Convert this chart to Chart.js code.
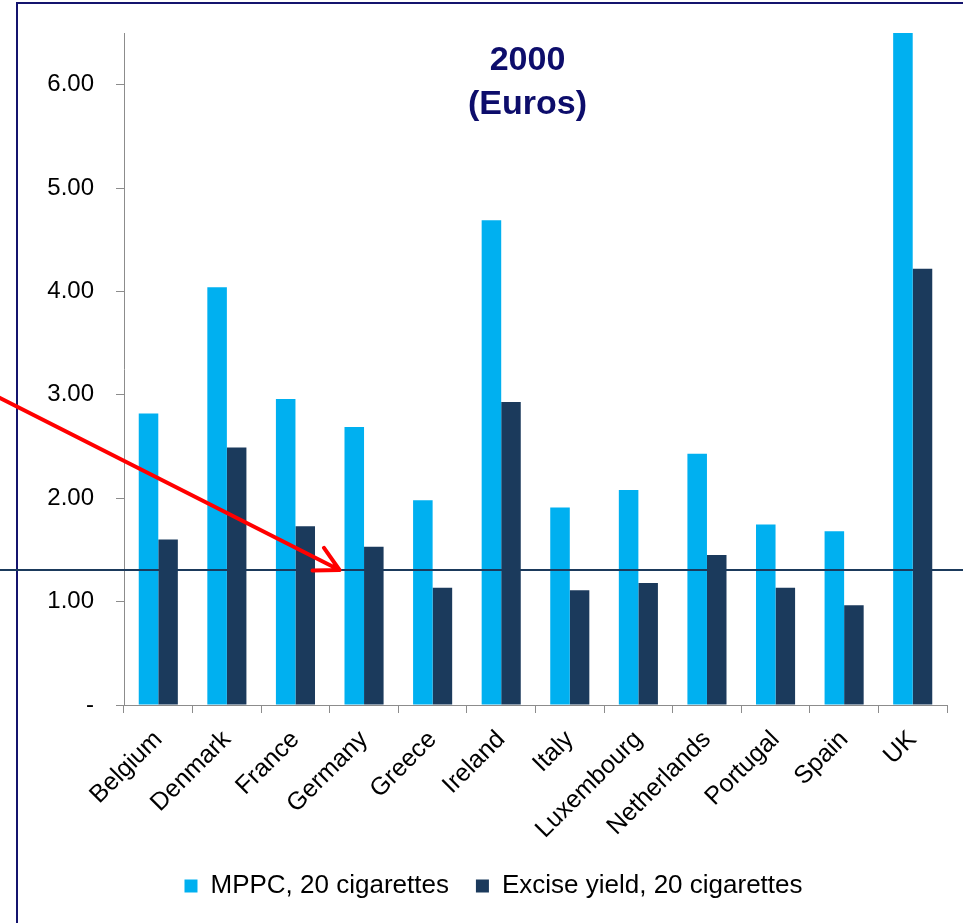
<!DOCTYPE html>
<html>
<head>
<meta charset="utf-8">
<script src="https://cdn.jsdelivr.net/npm/chart.js@4/dist/chart.umd.min.js"></script>
<style>
  html, body { margin: 0; padding: 0; background: #ffffff; }
  canvas { display: block; }
</style>
</head>
<body>
<canvas id="chart" width="963" height="923"></canvas>
<script>
// Price per pack of 20 cigarettes, year 2000, in euros
const countries = ['Belgium', 'Denmark', 'France', 'Germany', 'Greece', 'Ireland',
                   'Italy', 'Luxembourg', 'Netherlands', 'Portugal', 'Spain', 'UK'];
const mppcValues   = [2.82, 4.04, 2.96, 2.69, 1.98, 4.69, 1.91, 2.08, 2.43, 1.745, 1.68, 6.50];
const exciseValues = [1.60, 2.49, 1.73, 1.53, 1.135, 2.93, 1.11, 1.18, 1.45, 1.135, 0.965, 4.22];
const seriesNames  = ['MPPC, 20 cigarettes', 'Excise yield, 20 cigarettes'];
const titleLines   = ['2000', '(Euros)'];
const referenceLevel = 1.31;   // horizontal marker line
const arrowStartLevel = 2.97;  // where the red pointer enters at the left edge

const FONT = '"Liberation Sans", Arial, sans-serif';
const AXIS_GREY = '#8c8c8c';

// Frame, reference line, pointer arrow and title drawn over the bars
const overlay = {
  id: 'overlay',
  afterDraw(chart) {
    const ctx = chart.ctx;
    const area = chart.chartArea;
    const x = chart.scales.x;
    const y = chart.scales.y;
    ctx.save();

    // frame lines
    ctx.strokeStyle = '#14146e';
    ctx.lineWidth = 2;
    ctx.beginPath();
    ctx.moveTo(17, chart.height);
    ctx.lineTo(17, 3);
    ctx.lineTo(chart.width, 3);
    ctx.stroke();

    // reference level across the full width
    const ry = Math.round(y.getPixelForValue(referenceLevel));
    ctx.strokeStyle = '#1b3a5c';
    ctx.lineWidth = 2;
    ctx.beginPath();
    ctx.moveTo(0, ry);
    ctx.lineTo(chart.width, ry);
    ctx.stroke();

    // red pointer towards Germany
    const catW = (area.right - area.left) / countries.length;
    const tipX = x.getPixelForValue(3) - catW * 0.57 / 2 - 5;
    const tipY = ry;
    const sx = 0, sy = y.getPixelForValue(arrowStartLevel);
    const ang = Math.atan2(tipY - sy, tipX - sx);
    const head = 27, spread = 0.49;
    ctx.strokeStyle = '#ff0000';
    ctx.lineWidth = 4;
    ctx.lineCap = 'round';
    ctx.lineJoin = 'round';
    ctx.beginPath();
    ctx.moveTo(sx, sy);
    ctx.lineTo(tipX, tipY);
    ctx.moveTo(tipX - head * Math.cos(ang - spread), tipY - head * Math.sin(ang - spread));
    ctx.lineTo(tipX, tipY);
    ctx.lineTo(tipX - head * Math.cos(ang + spread), tipY - head * Math.sin(ang + spread));
    ctx.stroke();

    // title inside the plot
    const cx = (area.left + area.right) / 2 - 8;
    ctx.fillStyle = '#0d0d6b';
    ctx.font = 'bold 34px ' + FONT;
    ctx.textAlign = 'center';
    ctx.textBaseline = 'alphabetic';
    ctx.fillText(titleLines[0], cx, area.top + 37);
    ctx.fillText(titleLines[1], cx, area.top + 81);

    ctx.restore();
  }
};

new Chart(document.getElementById('chart'), {
  type: 'bar',
  data: {
    labels: countries,
    datasets: [
      { label: seriesNames[0], data: mppcValues, backgroundColor: '#00b0f0',
        categoryPercentage: 0.57, barPercentage: 1.0 },
      { label: seriesNames[1], data: exciseValues, backgroundColor: '#1b3a5c',
        categoryPercentage: 0.57, barPercentage: 1.0 }
    ]
  },
  options: {
    responsive: false,
    animation: false,
    devicePixelRatio: 1,
    layout: { padding: { left: 40, right: 16, top: 33, bottom: 14 } },
    plugins: {
      legend: {
        position: 'bottom',
        labels: {
          boxWidth: 13, boxHeight: 13, padding: 27,
          color: '#000000',
          font: { family: FONT, size: 26 }
        }
      },
      tooltip: { enabled: false }
    },
    scales: {
      x: {
        grid: { drawOnChartArea: false, offset: true, tickLength: 8, color: AXIS_GREY },
        border: { color: AXIS_GREY, width: 1 },
        ticks: {
          autoSkip: false, minRotation: 45, maxRotation: 45, padding: 12,
          color: '#000000', font: { family: FONT, size: 25 }
        },
        afterFit(scale) { scale.height = 141; }
      },
      y: {
        min: 0, max: 6.5, bounds: 'data',
        grid: { drawOnChartArea: false, tickLength: 8, color: AXIS_GREY },
        border: { color: AXIS_GREY, width: 1 },
        ticks: {
          stepSize: 1, includeBounds: false, padding: 22,
          color: '#000000', font: { family: FONT, size: 24 },
          callback: v => (v === 0 ? '-' : v.toFixed(2))
        },
        afterFit(scale) {
          scale.width = 84;
          scale.paddingTop = 0;
          scale.paddingBottom = 0;
        }
      }
    }
  },
  plugins: [overlay]
});
</script>
</body>
</html>
